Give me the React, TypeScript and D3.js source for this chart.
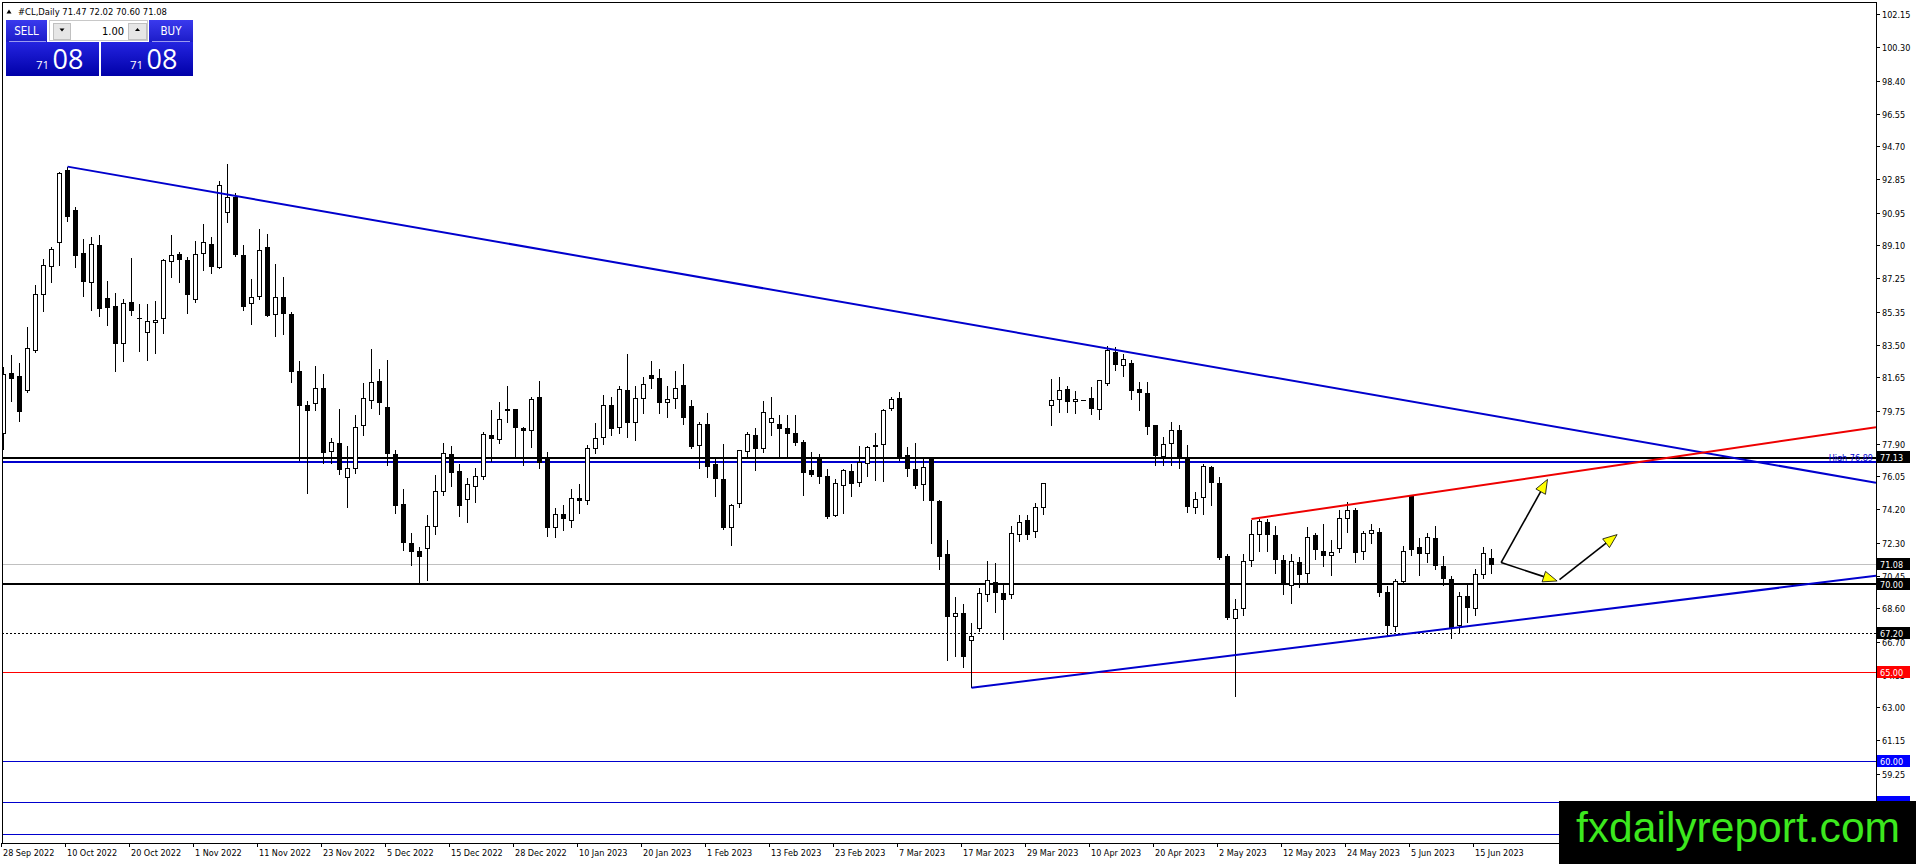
import React from "react";
import * as d3 from "d3";

// ---- DATA ----
const opens = [
  78.5, 81.9, 81.73, 80.95, 83.2, 86.37, 87.95, 89.3, 93.39, 91.13,
  88.7, 87.04, 89.15, 86.14, 85.7, 83.58, 85.91, 85.05, 84.22, 84.78,
  85.0, 88.23, 88.63, 88.29, 86.08, 88.68, 89.19, 87.89, 91.0, 91.88,
  88.57, 85.86, 86.23, 89.02, 85.24, 86.21, 85.25, 82.03, 80.09, 80.2,
  81.07, 77.5, 77.95, 76.0, 76.53, 78.96, 80.38, 81.47, 80.0, 77.33,
  74.5, 72.33, 71.86, 72.0, 73.24, 75.2, 77.33, 76.4, 74.8, 75.5,
  76.06, 78.42, 78.17, 79.87, 79.87, 78.8, 78.66, 80.55, 77.2, 73.2,
  73.94, 73.6, 74.84, 74.7, 77.66, 78.29, 80.11, 78.85, 80.96, 79.11,
  80.49, 81.8, 81.62, 80.26, 80.49, 81.24, 80.06, 77.82, 79.04, 76.78,
  75.93, 73.2, 74.56, 77.48, 78.42, 77.66, 79.1, 79.04, 78.8, 78.51,
  78.0, 76.42, 77.06, 76.1, 73.86, 75.56, 76.4, 75.74, 76.8, 77.76,
  77.89, 79.92, 80.49, 77.29, 76.48, 75.63, 77.1, 74.7, 71.68, 68.15,
  68.34, 66.8, 67.5, 69.4, 70.1, 69.47, 69.38, 72.77, 73.6, 72.96,
  74.33, 80.09, 80.43, 81.02, 80.3, 80.38, 80.49, 79.87, 81.34, 83.13,
  82.34, 82.5, 81.0, 80.77, 78.98, 77.19, 77.91, 78.7, 77.1, 74.33,
  74.9, 76.63, 75.72, 71.58, 68.06, 68.63, 71.32, 72.77, 73.52, 72.77,
  71.36, 69.94, 71.26, 70.6, 72.77, 71.88, 71.6, 72.0, 73.71, 74.2,
  71.83, 72.86, 72.96, 69.57, 67.6, 70.13, 74.97, 72.1, 71.7, 72.6,
  71.0, 70.26, 67.68, 69.32, 68.63, 70.56, 71.47,
];
const highs = [
  82.3, 82.94, 82.52, 84.54, 86.93, 88.4, 89.06, 93.3, 93.58, 91.32,
  89.53, 89.66, 89.72, 87.12, 86.48, 86.14, 88.46, 85.86, 85.86, 85.99,
  88.4, 89.77, 88.78, 88.53, 89.42, 90.34, 89.66, 92.79, 93.73, 92.1,
  89.19, 87.27, 90.09, 89.81, 88.08, 87.36, 85.39, 82.6, 80.34, 82.37,
  81.9, 78.29, 79.89, 77.82, 79.55, 81.37, 83.31, 82.18, 82.71, 77.6,
  75.4, 72.9, 72.1, 73.9, 76.2, 78.0, 77.8, 76.8, 76.0, 76.6,
  78.6, 79.87, 80.3, 81.19, 79.9, 78.9, 80.58, 81.47, 77.5, 74.3,
  74.5, 75.4, 75.7, 77.9, 79.15, 80.7, 80.6, 81.2, 83.0, 81.2,
  81.7, 82.62, 82.18, 81.19, 82.09, 82.47, 80.45, 79.17, 79.7, 77.2,
  77.95, 74.52, 77.6, 78.6, 78.83, 80.34, 80.62, 79.59, 79.55, 79.55,
  78.14, 77.51, 77.38, 76.53, 75.97, 76.53, 76.78, 77.8, 77.8, 78.57,
  79.89, 80.62, 80.9, 77.76, 78.0, 77.1, 77.23, 74.8, 72.5, 69.3,
  68.9, 67.8, 69.8, 71.3, 71.2, 70.1, 73.3, 73.9, 73.9, 74.6,
  75.7, 81.62, 81.75, 81.24, 80.96, 80.38, 81.15, 81.56, 83.45, 83.41,
  83.03, 82.66, 81.43, 81.43, 78.98, 78.32, 79.17, 79.02, 77.89, 75.22,
  76.82, 76.72, 76.06, 71.73, 69.2, 71.7, 73.62, 73.71, 73.71, 73.33,
  71.64, 71.73, 71.55, 73.24, 72.9, 73.39, 72.5, 74.2, 74.65, 74.33,
  73.05, 73.43, 73.2, 69.9, 70.3, 72.2, 75.06, 72.6, 72.9, 73.3,
  71.6, 70.5, 69.6, 70.0, 70.9, 72.1, 72.02,
];
const lows = [
  77.6, 80.3, 79.17, 80.8, 83.1, 85.39, 87.04, 87.98, 90.47, 87.87,
  86.23, 85.48, 85.14, 84.6, 82.03, 82.56, 85.16, 83.13, 82.62, 83.0,
  84.14, 87.3, 87.02, 85.29, 85.89, 87.7, 87.55, 87.8, 90.41, 88.49,
  85.44, 84.67, 86.1, 85.1, 83.97, 84.12, 81.37, 77.0, 75.1, 79.8,
  76.8, 76.8, 76.16, 74.3, 76.25, 78.38, 79.89, 79.6, 76.72, 74.0,
  71.9, 71.07, 70.1, 70.2, 72.8, 75.0, 75.5, 73.8, 73.5, 74.6,
  75.9, 76.9, 77.95, 79.1, 77.23, 76.72, 77.7, 76.5, 72.7, 72.65,
  73.0, 73.2, 74.0, 74.5, 77.38, 77.9, 78.4, 78.5, 78.3, 78.1,
  79.64, 81.05, 79.64, 79.42, 79.92, 79.02, 77.66, 76.53, 76.03, 74.93,
  73.09, 72.2, 74.3, 77.2, 76.44, 77.42, 78.38, 77.2, 77.16, 77.85,
  75.0, 76.06, 75.65, 73.71, 73.8, 74.0, 74.93, 75.5, 76.06, 75.82,
  75.8, 79.8, 77.0, 76.06, 75.4, 74.7, 72.3, 70.8, 65.7, 65.9,
  65.3, 64.14, 67.3, 69.0, 68.4, 66.85, 69.2, 72.4, 72.5, 72.6,
  73.9, 78.95, 79.68, 79.68, 79.64, 80.38, 79.55, 79.32, 81.2, 82.05,
  81.71, 80.4, 79.83, 78.42, 76.72, 76.67, 76.67, 76.53, 74.03, 73.99,
  73.95, 74.46, 71.36, 68.0, 63.63, 68.2, 70.98, 71.83, 71.83, 70.6,
  69.4, 68.9, 69.8, 70.0, 71.4, 70.98, 70.5, 71.8, 72.9, 71.2,
  71.36, 72.3, 69.3, 67.1, 67.3, 70.0, 71.6, 70.5, 71.2, 70.8,
  69.9, 66.9, 67.2, 67.8, 68.2, 70.3, 70.6,
];
const closes = [
  81.85, 81.56, 79.7, 83.31, 86.37, 88.0, 88.9, 93.2, 90.75, 88.55,
  87.04, 89.2, 85.52, 85.61, 83.58, 85.86, 85.44, 85.0, 84.82, 84.9,
  88.25, 88.57, 88.32, 86.35, 88.63, 89.3, 87.89, 92.54, 91.85, 88.59,
  85.63, 86.2, 88.87, 85.16, 86.21, 85.27, 82.0, 80.06, 79.75, 81.05,
  77.42, 78.0, 76.44, 76.5, 78.87, 80.5, 81.39, 80.24, 77.33, 74.41,
  72.3, 71.83, 71.54, 73.24, 75.2, 77.4, 76.29, 74.4, 75.6, 76.06,
  78.42, 78.17, 79.3, 79.8, 78.83, 78.66, 80.45, 76.86, 73.15, 73.9,
  73.65, 74.84, 74.7, 77.66, 78.23, 80.06, 78.76, 81.0, 79.11, 80.49,
  81.28, 81.58, 80.2, 80.45, 81.05, 79.36, 77.76, 79.02, 76.63, 75.93,
  73.15, 74.44, 77.53, 78.47, 77.6, 79.7, 79.34, 78.78, 78.47, 77.95,
  76.29, 76.16, 76.03, 73.77, 75.65, 76.4, 75.65, 76.85, 77.72, 77.85,
  79.83, 80.45, 77.1, 76.48, 75.56, 76.57, 74.7, 71.5, 68.15, 68.35,
  65.9, 67.06, 69.47, 70.2, 69.5, 69.1, 72.86, 73.5, 72.77, 74.33,
  75.65, 80.38, 80.96, 80.3, 80.45, 80.38, 79.87, 81.47, 83.22, 82.37,
  82.66, 80.92, 80.81, 78.89, 77.23, 77.89, 78.7, 77.1, 74.33, 74.78,
  76.63, 75.72, 71.45, 68.06, 68.57, 71.26, 72.77, 73.52, 72.77, 71.36,
  69.94, 71.26, 70.5, 72.64, 71.92, 71.58, 71.79, 73.7, 74.18, 71.73,
  72.86, 73.05, 69.47, 67.6, 70.13, 71.83, 71.9, 71.7, 72.6, 71.0,
  70.3, 67.5, 69.28, 68.63, 70.56, 71.73, 71.08,
];

const dateLabels = [
  "28 Sep 2022", "10 Oct 2022", "20 Oct 2022", "1 Nov 2022", "11 Nov 2022",
  "23 Nov 2022", "5 Dec 2022", "15 Dec 2022", "28 Dec 2022", "10 Jan 2023",
  "20 Jan 2023", "1 Feb 2023", "13 Feb 2023", "23 Feb 2023", "7 Mar 2023",
  "17 Mar 2023", "29 Mar 2023", "10 Apr 2023", "20 Apr 2023", "2 May 2023",
  "12 May 2023", "24 May 2023", "5 Jun 2023", "15 Jun 2023",
];
const barsPerDateLabel = 8;

const priceTicks = [
  102.15, 100.3, 98.4, 96.55, 94.7, 92.85, 90.95, 89.1, 87.25, 85.35, 83.5,
  81.65, 79.75, 77.9, 76.05, 74.2, 72.3, 70.45, 68.6, 66.7, 64.85, 63.0,
  61.15, 59.25, 57.4,
];

// horizontal levels: price values
const levelPrices = [77.13, 76.89, 71.08, 70.0, 67.2, 65.0, 60.0, 57.63, 55.82];
const highLevelText = "High  76.89";

// trend rays: two anchor points [bar index, price]
const trendDownBlue = [[8, 93.58], [139, 83.23]];
const trendUpRed = [[156, 73.67], [176, 75.0]];
const trendUpBlue = [[121, 64.14], [173, 67.05]];

// arrows: [start [bar, price], end [bar, price]]
const arrowPaths = [
  [[187.2, 71.21], [193.0, 75.91]],
  [[187.2, 71.21], [194.2, 70.17]],
  [[194.5, 70.25], [201.7, 72.79]],
];

const quoteSymbol = "#CL,Daily";
const quoteOHLC = [71.47, 72.02, 70.6, 71.08];
const lotSize = "1.00";
const priceBig = "08";
const priceSmall = "71";
const watermarkText = "fxdailyreport.com";

// ---- STYLE ----
const levelStyles = [
  { color: "#000000", width: 2, dash: "", box: "#000000" },
  { color: "#0000cd", width: 2, dash: "", box: null },
  { color: "#c0c0c0", width: 1, dash: "", box: "#000000" },
  { color: "#000000", width: 2, dash: "", box: "#000000" },
  { color: "#000000", width: 1, dash: "2,2", box: "#000000" },
  { color: "#ff0000", width: 1, dash: "", box: "#ff0000" },
  { color: "#0000cd", width: 1, dash: "", box: "#0000ff" },
  { color: "#0000cd", width: 1, dash: "", box: "#0000ff" },
  { color: "#0000cd", width: 1, dash: "", box: "#0000ff" },
];

const axisFont = "Tahoma, 'DejaVu Sans Condensed', 'Liberation Sans', Arial, sans-serif";

export default function App() {
  const W = 1916;
  const H = 864;
  const left = 2;
  const right = 1876;
  const top = 2;
  const bottom = 843;
  const wmLeft = 1559;
  const wmTop = 801;

  const x = d3.scaleLinear().domain([0, 1]).range([3.5, 11.5]);
  const y = d3.scaleLinear().domain([70, 60]).range([584, 761]);
  const snap = (v: number) => Math.round(v - 0.5) + 0.5;

  const bars = d3.range(opens.length).map((i) => ({
    i,
    o: opens[i],
    h: highs[i],
    l: lows[i],
    c: closes[i],
  }));

  const bEnd = x.invert(right);
  const ray = (pts: number[][]) => {
    const [[b1, p1], [b2, p2]] = pts;
    const s = (p2 - p1) / (b2 - b1);
    return { x1: x(b1), y1: y(p1), x2: x(bEnd), y2: y(p1 + s * (bEnd - b1)) };
  };
  const rays = [
    { r: ray(trendDownBlue), color: "#0000cd" },
    { r: ray(trendUpRed), color: "#ee0000" },
    { r: ray(trendUpBlue), color: "#0000cd" },
  ];

  const arrowEls = arrowPaths.map((a, k) => {
    const x1 = x(a[0][0]);
    const y1 = y(a[0][1]);
    const x2 = x(a[1][0]);
    const y2 = y(a[1][1]);
    const dx = x2 - x1;
    const dy = y2 - y1;
    const len = Math.hypot(dx, dy);
    const ux = dx / len;
    const uy = dy / len;
    const hl = 14;
    const hw = 5.5;
    const bx = x2 - ux * hl;
    const by = y2 - uy * hl;
    const pts = [
      [x2, y2],
      [bx - uy * hw, by + ux * hw],
      [bx + uy * hw, by - ux * hw],
    ];
    return (
      <g key={"ar" + k}>
        <line x1={x1} y1={y1} x2={bx} y2={by} stroke="#000" strokeWidth={1.6} />
        <polygon
          points={pts.map((p) => p.join(",")).join(" ")}
          fill="#ffff00"
          stroke="#000"
          strokeWidth={0.8}
        />
      </g>
    );
  });

  const fmt = d3.format(".2f");

  return (
    <svg
      width={W}
      height={H}
      viewBox={`0 0 ${W} ${H}`}
      style={{ position: "fixed", left: 0, top: 0, background: "#fff" }}
    >
      <defs>
        <clipPath id="plot">
          <rect x={left} y={top} width={right - left} height={bottom - top} />
        </clipPath>
        <linearGradient id="pbox" x1="0" y1="0" x2="0" y2="1">
          <stop offset="0" stopColor="#2424e0" />
          <stop offset="1" stopColor="#0000a8" />
        </linearGradient>
        <linearGradient id="btn" x1="0" y1="0" x2="0" y2="1">
          <stop offset="0" stopColor="#3a3aee" />
          <stop offset="1" stopColor="#1c1cc8" />
        </linearGradient>
      </defs>
      <rect x={0} y={0} width={W} height={H} fill="#fff" />

      {/* price axis ticks and labels */}
      <g fontFamily={axisFont} fontSize={9} fill="#000">
        {priceTicks.map((p) => {
          const yy = snap(y(p));
          return (
            <g key={"pt" + p}>
              <line x1={right} x2={right + 4} y1={yy} y2={yy} stroke="#000" />
              {yy + 4 < wmTop && (
                <text x={1882} y={yy + 3.5}>
                  {fmt(p)}
                </text>
              )}
            </g>
          );
        })}
      </g>

      {/* date axis */}
      <g fontFamily={axisFont} fontSize={9} fill="#000">
        {dateLabels.map((d, k) => {
          const xx = snap(x(k * barsPerDateLabel));
          return (
            <g key={"dl" + k}>
              <line x1={xx - 2} x2={xx - 2} y1={bottom} y2={bottom + 4} stroke="#000" />
              <text x={xx - 0.5} y={856}>
                {d}
              </text>
            </g>
          );
        })}
      </g>

      <g clipPath="url(#plot)">
        {/* horizontal levels */}
        {levelPrices.map((p, k) => {
          const st = levelStyles[k];
          const yy = st.width === 2 ? Math.round(y(p)) : snap(y(p));
          return (
            <line
              key={"lv" + k}
              x1={left}
              x2={right}
              y1={yy}
              y2={yy}
              stroke={st.color}
              strokeWidth={st.width}
              strokeDasharray={st.dash || undefined}
              shapeRendering="crispEdges"
            />
          );
        })}

        {/* candles */}
        <g shapeRendering="crispEdges">
          {bars.map((b) => {
            const cx = x(b.i);
            const yh = snap(y(b.h));
            const yl = snap(y(b.l));
            const yo = y(b.o);
            const yc = y(b.c);
            const bull = b.c >= b.o;
            let body;
            if (Math.abs(yo - yc) < 1.2) {
              const yy = snap((yo + yc) / 2);
              body = (
                <line x1={cx - 2.5} x2={cx + 2.5} y1={yy} y2={yy} stroke="#000" strokeWidth={1} />
              );
            } else if (bull) {
              const t = snap(yc);
              const bt = snap(yo);
              body = (
                <rect x={cx - 2} y={t} width={4} height={bt - t} fill="#fff" stroke="#000" strokeWidth={1} />
              );
            } else {
              const t = Math.round(yo);
              const bt = Math.round(yc);
              body = <rect x={cx - 2.5} y={t} width={5} height={Math.max(bt - t, 1)} fill="#000" />;
            }
            return (
              <g key={"c" + b.i}>
                {yl > yh && (
                  <line x1={cx} x2={cx} y1={yh} y2={yl} stroke="#000" strokeWidth={1} />
                )}
                {body}
              </g>
            );
          })}
        </g>

        {/* trend rays */}
        {rays.map((t, k) => (
          <line
            key={"tr" + k}
            x1={t.r.x1}
            y1={t.r.y1}
            x2={t.r.x2}
            y2={t.r.y2}
            stroke={t.color}
            strokeWidth={2}
          />
        ))}

        {/* arrows */}
        {arrowEls}

        {/* High text */}
        <text
          x={right - 3}
          y={snap(y(levelPrices[1])) - 2}
          textAnchor="end"
          fontFamily={axisFont}
          fontSize={9}
          fill="#0000cd"
        >
          {highLevelText}
        </text>
      </g>

      {/* chart frame */}
      <rect
        x={left + 0.5}
        y={top + 0.5}
        width={right - left}
        height={bottom - top}
        fill="none"
        stroke="#000"
        strokeWidth={1}
        shapeRendering="crispEdges"
      />

      {/* level labels on the price axis */}
      <g fontFamily={axisFont} fontSize={9}>
        {levelPrices.map((p, k) => {
          const st = levelStyles[k];
          if (!st.box) return null;
          const yy = snap(y(p));
          if (yy - 6.5 > wmTop) return null;
          return (
            <g key={"lb" + k}>
              <rect x={right + 1} y={yy - 6.5} width={33} height={12} fill={st.box} />
              {yy + 4 < wmTop && (
                <text x={1880} y={yy + 3.5} fill="#fff">
                  {fmt(p)}
                </text>
              )}
            </g>
          );
        })}
      </g>

      {/* title */}
      <polygon points="6.5,13.5 11.5,13.5 9,9.5" fill="#000" />
      <text x={18} y={14.5} fontFamily={axisFont} fontSize={9.4} fill="#000">
        {quoteSymbol + "  " + quoteOHLC.map(fmt).join(" ")}
      </text>

      {/* one-click trading panel */}
      <g>
        <rect x={6} y={20} width={41} height={22} fill="url(#btn)" />
        <rect x={149} y={20} width={44} height={22} fill="url(#btn)" />
        <rect x={6} y={42} width={93} height={34} fill="url(#pbox)" />
        <rect x={101} y={42} width={92} height={34} fill="url(#pbox)" />
        <line x1={9} x2={46} y1={41.5} y2={41.5} stroke="#9a9af0" strokeWidth={1} />
        <line x1={152} x2={190} y1={41.5} y2={41.5} stroke="#9a9af0" strokeWidth={1} />
        <text x={26.5} y={35} textAnchor="middle" fontFamily={axisFont} fontSize={11.5} fill="#fff">
          SELL
        </text>
        <text x={171} y={35} textAnchor="middle" fontFamily={axisFont} fontSize={11.5} fill="#fff">
          BUY
        </text>
        {/* lot control */}
        <rect x={49.5} y={20.5} width={98} height={20} fill="#ffffff" stroke="#c8c8c8" />
        <rect x={53.5} y={23.5} width={17} height={16} fill="#e6e6e6" stroke="#c0c0c0" />
        <rect x={128.5} y={23.5} width={18} height={16} fill="#e6e6e6" stroke="#c0c0c0" />
        <polygon points="59.5,28.5 64.5,28.5 62,31.5" fill="#000" />
        <polygon points="135,31 140,31 137.5,28" fill="#000" />
        <text x={124} y={35} textAnchor="end" fontFamily={axisFont} fontSize={11} fill="#000">
          {lotSize}
        </text>
        {/* prices */}
        <text x={36} y={68.5} fontFamily="'Open Sans', 'Noto Sans', sans-serif" fontSize={11.5} fill="#fff">
          {priceSmall}
        </text>
        <text x={52.5} y={68.5} fontFamily="'Open Sans', 'Noto Sans', sans-serif" fontSize={27} fill="#fff">
          {priceBig}
        </text>
        <text x={130} y={68.5} fontFamily="'Open Sans', 'Noto Sans', sans-serif" fontSize={11.5} fill="#fff">
          {priceSmall}
        </text>
        <text x={146.5} y={68.5} fontFamily="'Open Sans', 'Noto Sans', sans-serif" fontSize={27} fill="#fff">
          {priceBig}
        </text>
      </g>

      {/* watermark */}
      <rect x={wmLeft} y={wmTop} width={W - wmLeft} height={H - wmTop} fill="#000" />
      <text
        x={1576}
        y={842}
        fontFamily="'Liberation Sans', Arial, sans-serif"
        fontSize={42}
        fill="#3ce81e"
        textLength={324}
        lengthAdjust="spacingAndGlyphs"
      >
        {watermarkText}
      </text>
    </svg>
  );
}
